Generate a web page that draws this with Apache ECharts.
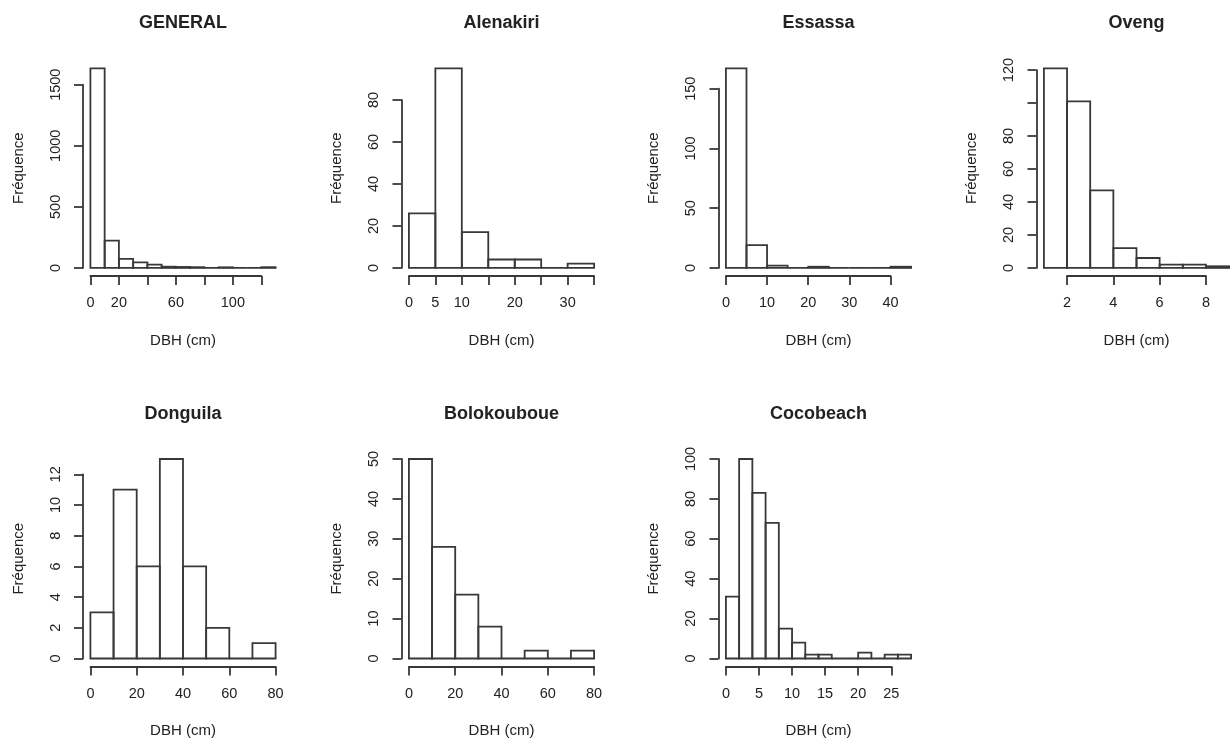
<!DOCTYPE html>
<html><head><meta charset="utf-8">
<script src="https://cdn.jsdelivr.net/npm/echarts@6/dist/echarts.min.js"></script>
<style>html,body{margin:0;padding:0;background:#fff}#c{width:1231px;height:744px}</style>
</head><body><div id="c"></div>
<script>
// ---------- DATA ----------
const panelTitles = ['GENERAL','Alenakiri','Essassa','Oveng','Donguila','Bolokouboue','Cocobeach'];
const xAxisTitle = 'DBH (cm)';
const yAxisTitle = 'Fréquence';

const generalBreaks = [0,10,20,30,40,50,60,70,80,90,100,110,120,130];
const generalCounts = [1634,224,74,46,27,10,8,6,0,5,0,0,6];
const generalXTicks = [0,20,40,60,80,100,120];
const generalXLabels = ['0','20','','60','','100',''];
const generalYTicks = [0,500,1000,1500];
const generalYLabels = ['0','500','1000','1500'];

const alenakiriBreaks = [0,5,10,15,20,25,30,35];
const alenakiriCounts = [26,95,17,4,4,0,2];
const alenakiriXTicks = [0,5,10,15,20,25,30,35];
const alenakiriXLabels = ['0','5','10','','20','','30',''];
const alenakiriYTicks = [0,20,40,60,80];
const alenakiriYLabels = ['0','20','40','60','80'];

const essassaBreaks = [0,5,10,15,20,25,30,35,40,45];
const essassaCounts = [167,19,2,0,1,0,0,0,1];
const essassaXTicks = [0,10,20,30,40];
const essassaXLabels = ['0','10','20','30','40'];
const essassaYTicks = [0,50,100,150];
const essassaYLabels = ['0','50','100','150'];

const ovengBreaks = [1,2,3,4,5,6,7,8,9];
const ovengCounts = [121,101,47,12,6,2,2,1];
const ovengXTicks = [2,4,6,8];
const ovengXLabels = ['2','4','6','8'];
const ovengYTicks = [0,20,40,60,80,100,120];
const ovengYLabels = ['0','20','40','60','80','','120'];

const donguilaBreaks = [0,10,20,30,40,50,60,70,80];
const donguilaCounts = [3,11,6,13,6,2,0,1];
const donguilaXTicks = [0,20,40,60,80];
const donguilaXLabels = ['0','20','40','60','80'];
const donguilaYTicks = [0,2,4,6,8,10,12];
const donguilaYLabels = ['0','2','4','6','8','10','12'];

const bolokBreaks = [0,10,20,30,40,50,60,70,80];
const bolokCounts = [50,28,16,8,0,2,0,2];
const bolokXTicks = [0,20,40,60,80];
const bolokXLabels = ['0','20','40','60','80'];
const bolokYTicks = [0,10,20,30,40,50];
const bolokYLabels = ['0','10','20','30','40','50'];

const cocoBreaks = [0,2,4,6,8,10,12,14,16,18,20,22,24,26,28];
const cocoCounts = [31,100,83,68,15,8,2,2,0,0,3,0,2,2];
const cocoXTicks = [0,5,10,15,20,25];
const cocoXLabels = ['0','5','10','15','20','25'];
const cocoYTicks = [0,20,40,60,80,100];
const cocoYLabels = ['0','20','40','60','80','100'];

const panels = [
  {breaks: generalBreaks, counts: generalCounts, xt: generalXTicks, xl: generalXLabels, yt: generalYTicks, yl: generalYLabels},
  {breaks: alenakiriBreaks, counts: alenakiriCounts, xt: alenakiriXTicks, xl: alenakiriXLabels, yt: alenakiriYTicks, yl: alenakiriYLabels},
  {breaks: essassaBreaks, counts: essassaCounts, xt: essassaXTicks, xl: essassaXLabels, yt: essassaYTicks, yl: essassaYLabels},
  {breaks: ovengBreaks, counts: ovengCounts, xt: ovengXTicks, xl: ovengXLabels, yt: ovengYTicks, yl: ovengYLabels},
  {breaks: donguilaBreaks, counts: donguilaCounts, xt: donguilaXTicks, xl: donguilaXLabels, yt: donguilaYTicks, yl: donguilaYLabels},
  {breaks: bolokBreaks, counts: bolokCounts, xt: bolokXTicks, xl: bolokXLabels, yt: bolokYTicks, yl: bolokYLabels},
  {breaks: cocoBreaks, counts: cocoCounts, xt: cocoXTicks, xl: cocoXLabels, yt: cocoYTicks, yl: cocoYLabels}
];

// ---------- LAYOUT ----------
const colLeft = [83, 401.5, 718.5, 1036.5];
const rowTop = [60.4, 451];
const PW = 200, PH = 215.5;
const FONT = '"Liberation Sans", Arial, sans-serif';
const INK = '#383838';
const TXT = '#222';
const LW = 1.8;

const grids = [], xAxes = [], yAxes = [], series = [], titles = [];

panels.forEach((p, i) => {
  const L = colLeft[i % 4], T = rowTop[Math.floor(i / 4)];
  const b0 = p.breaks[0], b1 = p.breaks[p.breaks.length - 1];
  const xa = b0 - 0.04 * (b1 - b0), xb = b1 + 0.04 * (b1 - b0);
  const ymax = Math.max(...p.counts);
  const ya = -0.04 * ymax, yb = 1.04 * ymax;

  const t0 = p.xt[0], t1 = p.xt[p.xt.length - 1];
  const s0 = p.yt[0], s1 = p.yt[p.yt.length - 1];

  const gi = grids.length;
  // data grid (R plot region)
  grids.push({left: L, top: T, width: PW, height: PH, containLabel: false, outerBoundsMode: 'none'});
  // x-axis grid (tick range)
  grids.push({left: L + (t0 - xa) / (xb - xa) * PW, width: (t1 - t0) / (xb - xa) * PW,
              top: T, height: PH, containLabel: false, outerBoundsMode: 'none'});
  // y-axis grid (tick range)
  grids.push({left: L, width: PW, top: T + (yb - s1) / (yb - ya) * PH,
              height: (s1 - s0) / (yb - ya) * PH, containLabel: false, outerBoundsMode: 'none'});

  // data grid axes (carry the axis titles)
  xAxes.push({gridIndex: gi, type: 'value', min: xa, max: xb,
    axisLine: {show: false}, axisTick: {show: false}, axisLabel: {show: false}, splitLine: {show: false},
    name: xAxisTitle, nameLocation: 'middle', nameGap: 57,
    nameTextStyle: {fontFamily: FONT, fontSize: 15, color: TXT}});
  yAxes.push({gridIndex: gi, type: 'value', min: ya, max: yb,
    axisLine: {show: false}, axisTick: {show: false}, axisLabel: {show: false}, splitLine: {show: false},
    name: yAxisTitle, nameLocation: 'middle', nameGap: 57,
    nameTextStyle: {fontFamily: FONT, fontSize: 15, color: TXT}});

  // x-axis grid
  const xStep = p.xt[1] - p.xt[0];
  xAxes.push({gridIndex: gi + 1, type: 'value', min: t0, max: t1, interval: xStep, position: 'bottom',
    axisLine: {show: true, onZero: false, lineStyle: {color: INK, width: LW}},
    axisTick: {show: true, inside: false, length: 9, lineStyle: {color: INK, width: LW}},
    axisLabel: {show: true, margin: 20, fontFamily: FONT, fontSize: 14.5, color: TXT,
      formatter: v => { const k = p.xt.indexOf(v); return k >= 0 ? p.xl[k] : ''; }},
    splitLine: {show: false}});
  yAxes.push({gridIndex: gi + 1, type: 'value', show: false, min: 0, max: 1});

  // y-axis grid
  const yStep = p.yt[1] - p.yt[0];
  xAxes.push({gridIndex: gi + 2, type: 'value', show: false, min: 0, max: 1});
  yAxes.push({gridIndex: gi + 2, type: 'value', min: s0, max: s1, interval: yStep, position: 'left',
    axisLine: {show: true, onZero: false, lineStyle: {color: INK, width: LW}},
    axisTick: {show: true, inside: false, length: 9, lineStyle: {color: INK, width: LW}},
    axisLabel: {show: true, rotate: 90, margin: 20, fontFamily: FONT, fontSize: 14.5, color: TXT,
      formatter: v => { const k = p.yt.indexOf(v); return k >= 0 ? p.yl[k] : ''; }},
    splitLine: {show: false}});

  // bars
  const data = p.counts.map((c, k) => [p.breaks[k], p.breaks[k + 1], c]);
  series.push({type: 'custom', xAxisIndex: gi, yAxisIndex: gi, data: data, silent: true,
    encode: {x: [0, 1], y: 2}, clip: false,
    renderItem: (params, api) => {
      const q0 = api.coord([api.value(0), 0]);
      const q1 = api.coord([api.value(1), api.value(2)]);
      return {type: 'rect',
        shape: {x: q0[0], y: q1[1], width: q1[0] - q0[0], height: q0[1] - q1[1]},
        style: {fill: 'none', stroke: INK, lineWidth: LW}};
    }});

  titles.push({text: panelTitles[i], left: L + PW / 2, top: T - 46, textAlign: 'center', padding: 0,
    textStyle: {fontFamily: FONT, fontSize: 18, fontWeight: 'bold', color: TXT}});
});

const chart = echarts.init(document.getElementById('c'), null, {renderer: 'canvas'});
chart.setOption({
  backgroundColor: '#fff',
  animation: false,
  title: titles,
  grid: grids,
  xAxis: xAxes,
  yAxis: yAxes,
  series: series
});
</script>
</body></html>
